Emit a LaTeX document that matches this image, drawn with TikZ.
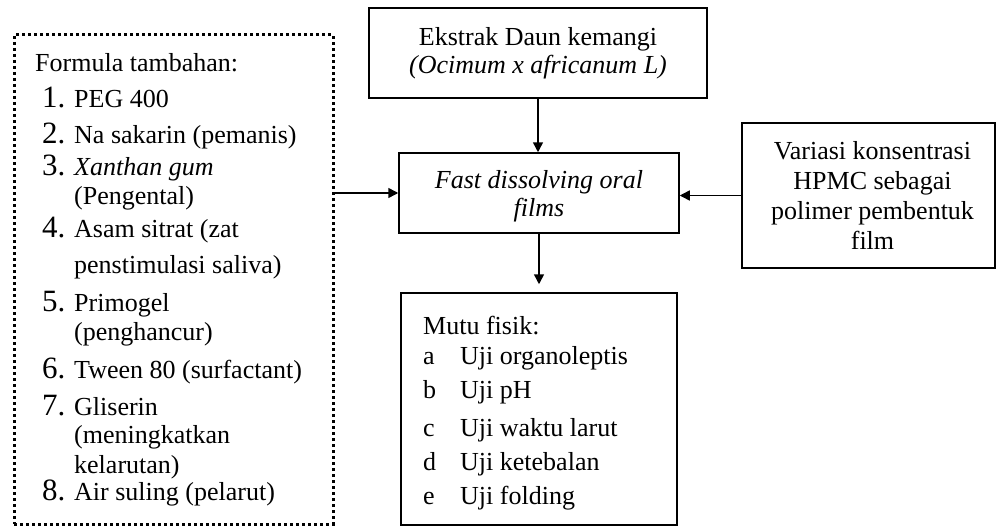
\documentclass[tikz,border=0pt]{standalone}
\usepackage{fontspec}
\setmainfont{Liberation Serif}
\usetikzlibrary{arrows.meta}
\newcommand\fs{\fontsize{26}{28}\selectfont}
\newcommand\fsv{\fontsize{26}{30}\selectfont}
\newcommand\numf{\fontsize{31}{31}\selectfont}
\begin{document}
\begin{tikzpicture}[x=1pt,y=-1pt,
  box/.style={draw, line width=1.5pt, inner sep=0pt, align=center, font=\fs},
  dbox/.style={draw, line width=3pt, dash pattern=on 3pt off 3pt, inner sep=0pt},
  txt/.style={anchor=base west, inner sep=0pt, font=\fs},
  num/.style={anchor=base west, inner sep=0pt, font=\numf},
  arr/.style={-{Triangle[length=10pt,width=10pt]}, line width=1.5pt}]
\useasboundingbox (0,0) rectangle (996,527);

% boxes
\node[box, minimum width=338pt, minimum height=90pt] (top) at (538,53)
  {Ekstrak Daun kemangi\\\textit{(Ocimum x africanum L)}};
\node[box, minimum width=280pt, minimum height=80pt] (fast) at (539,193)
  {\rule{0pt}{24pt}\textit{Fast dissolving oral}\\\textit{films}};
\node[box, font=\fsv, minimum width=253pt, minimum height=145pt] (var) at (868.5,195.5)
  {\hspace*{8pt}Variasi konsentrasi\\\hspace*{8pt}HPMC sebagai\\\hspace*{8pt}polimer pembentuk\\\hspace*{8pt}film};
\node[box, minimum width=276pt, minimum height=232pt] (mutu) at (539,409) {};
\node[dbox, minimum width=319pt, minimum height=489pt] (dotbox) at (173.5,279.5) {};

% left list
\node[txt] (f0) at (35,72) {Formula tambahan:};
\node[num] (n1) at (42,107) {1.};
\node[txt] (t1) at (74,107) {PEG 400};
\node[num] (n2) at (42,143) {2.};
\node[txt] (t2) at (74,143) {Na sakarin (pemanis)};
\node[num] (n3) at (42,175) {3.};
\node[txt] (t3) at (74,175) {\textit{Xanthan gum}};
\node[txt] (t3b) at (74,204) {(Pengental)};
\node[num] (n4) at (42,237) {4.};
\node[txt] (t4) at (74,237) {Asam sitrat (zat};
\node[txt] (t4b) at (74,273) {penstimulasi saliva)};
\node[num] (n5) at (42,311) {5.};
\node[txt] (t5) at (74,311) {Primogel};
\node[txt] (t5b) at (74,340) {(penghancur)};
\node[num] (n6) at (42,378) {6.};
\node[txt] (t6) at (74,378) {Tween 80 (surfactant)};
\node[num] (n7) at (42,415) {7.};
\node[txt] (t7) at (74,415) {Gliserin};
\node[txt] (t7b) at (74,443) {(meningkatkan};
\node[txt] (t7c) at (74,473) {kelarutan)};
\node[num] (n8) at (42,500) {8.};
\node[txt] (t8) at (74,500) {Air suling (pelarut)};

% mutu list
\node[txt] (m0) at (423,334) {Mutu fisik:};
\node[txt] (ma) at (423,364) {a};
\node[txt] (ua) at (460,364) {Uji organoleptis};
\node[txt] (mb) at (423,398) {b};
\node[txt] (ub) at (460,398) {Uji pH};
\node[txt] (mc) at (423,436) {c};
\node[txt] (uc) at (460,436) {Uji waktu larut};
\node[txt] (md) at (423,470) {d};
\node[txt] (ud) at (460,470) {Uji ketebalan};
\node[txt] (me) at (423,504) {e};
\node[txt] (ue) at (460,504) {Uji folding};

% arrows
\draw[arr] (top.south) -- (top.south |- fast.north);
\draw[arr] (dotbox.east |- fast.west) -- (fast.west);
\draw[arr] (var.west) -- (var.west -| fast.east);
\draw[arr, shorten >=8pt] (fast.south) -- (fast.south |- mutu.north);
\end{tikzpicture}
\end{document}
